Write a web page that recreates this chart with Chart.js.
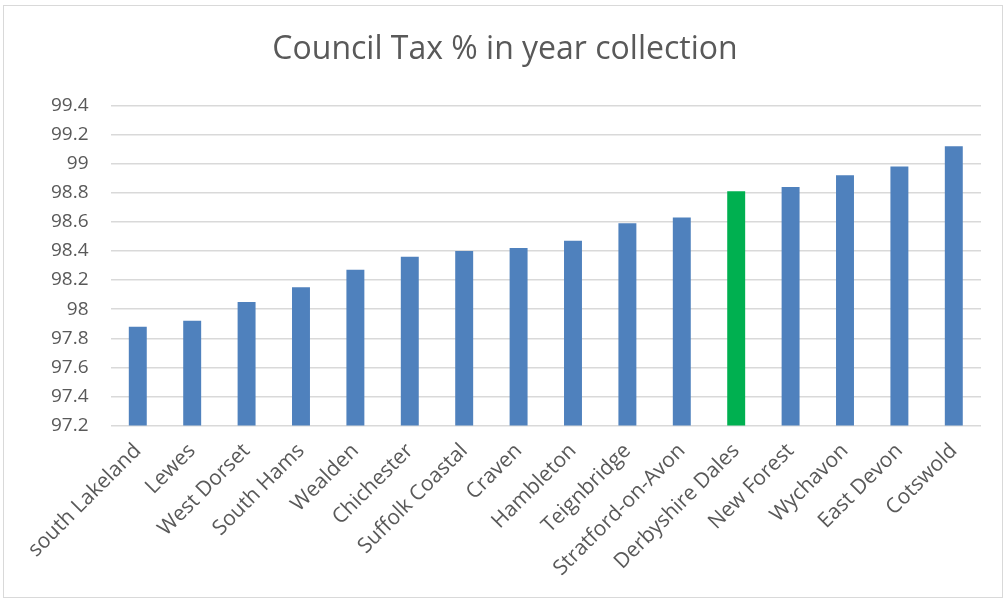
<!DOCTYPE html>
<html>
<head>
<meta charset="utf-8">
<script src="https://cdn.jsdelivr.net/npm/chart.js@4/dist/chart.umd.min.js"></script>
<style>
  html, body { margin: 0; padding: 0; background: #ffffff; }
  #wrap { position: absolute; left: 3px; top: 5px; width: 1000px; height: 593px; border: 1px solid #d9d9d9; box-sizing: border-box; }
  canvas { display: block; }
</style>
</head>
<body>
<div id="wrap"><canvas id="c" width="998" height="591"></canvas></div>
<script>
const categories = ["south Lakeland", "Lewes", "West Dorset", "South Hams", "Wealden", "Chichester", "Suffolk Coastal", "Craven", "Hambleton", "Teignbridge", "Stratford-on-Avon", "Derbyshire Dales", "New Forest", "Wychavon", "East Devon", "Cotswold"];
const collectionPct = [97.88, 97.92, 98.05, 98.15, 98.27, 98.36, 98.40, 98.42, 98.47, 98.59, 98.63, 98.81, 98.84, 98.92, 98.98, 99.12];
const highlighted = "Derbyshire Dales";
const yMin = 97.2, yMax = 99.4, yStep = 0.2;
const titleText = "Council Tax % in year collection";

const barColors = categories.map(c => c === highlighted ? "#00b050" : "#4f81bd");

new Chart(document.getElementById("c"), {
  type: "bar",
  data: {
    labels: categories,
    datasets: [{
      data: collectionPct,
      backgroundColor: barColors,
      borderWidth: 0,
      barPercentage: 0.33,
      categoryPercentage: 1.0
    }]
  },
  options: {
    responsive: false,
    animation: false,
    layout: { padding: { left: 25, right: 21, top: 10, bottom: 3 } },
    plugins: {
      legend: { display: false },
      tooltip: { enabled: false },
      title: {
        display: true,
        text: titleText,
        color: "#595959",
        font: { family: "'Open Sans', sans-serif", size: 32, weight: "normal" },
        padding: { top: 15, bottom: 36 }
      }
    },
    scales: {
      x: {
        grid: { display: false, drawTicks: false },
        border: { display: false },
        ticks: {
          color: "#595959",
          font: { family: "'Open Sans', sans-serif", size: 21 },
          minRotation: 45,
          maxRotation: 45,
          autoSkip: false,
          padding: 13
        }
      },
      y: {
        min: yMin,
        max: yMax,
        grid: { color: "#d9d9d9", lineWidth: 1.5, drawTicks: false },
        border: { display: false },
        ticks: {
          stepSize: yStep,
          color: "#595959",
          font: { family: "'Open Sans', sans-serif", size: 19 },
          padding: 22,
          callback: (v) => String(parseFloat(Number(v).toFixed(1)))
        }
      }
    }
  }
});
</script>
</body>
</html>
